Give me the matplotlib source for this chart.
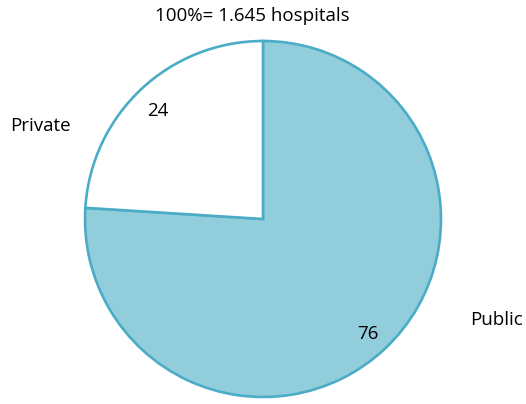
import matplotlib
matplotlib.use("Agg")
import matplotlib.pyplot as plt
import numpy as np

categories = ["Public", "Private"]
values = [76, 24]
value_labels = ["76", "24"]
title = "100%= 1.645 hospitals"

plt.rcParams['font.family'] = ['Open Sans', 'DejaVu Sans']

fig = plt.figure(figsize=(5.26, 4.04), dpi=100)
ax = fig.add_axes([85/526, 7/404, 356/526, 356/404])
wedges, texts = ax.pie(values, colors=["#92CDDC", "#FFFFFF"], startangle=90,
                       counterclock=False, radius=1.0,
                       wedgeprops=dict(edgecolor="#4BACC6", linewidth=1.9, clip_on=False))
for w, lab in zip(wedges, value_labels):
    ang = np.deg2rad((w.theta1 + w.theta2) / 2)
    ax.text(0.86*np.cos(ang), 0.86*np.sin(ang) - 0.02, lab, ha="center", va="center", fontsize=13.5)
ax.text(1.31, -0.57, categories[0], ha="center", va="center", fontsize=13.5)
ax.text(-1.25, 0.52, categories[1], ha="center", va="center", fontsize=13.5)
ax.text(-0.06, 1.14, title, ha="center", va="center", fontsize=13.5)
ax.set_xlim(-1.0, 1.0)
ax.set_ylim(-1.0, 1.0)
ax.set_aspect("equal")
ax.axis("off")
fig.savefig("out.png", dpi=100)
